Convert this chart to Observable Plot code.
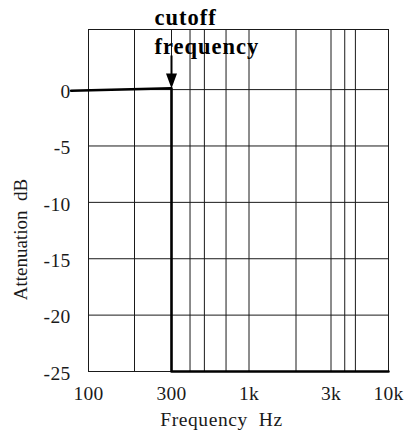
<!DOCTYPE html>
<html><head><meta charset="utf-8">
<script src="https://cdn.jsdelivr.net/npm/d3@7"></script>
<script src="https://cdn.jsdelivr.net/npm/@observablehq/plot@0.6"></script>
<style>
body{margin:0;background:#fff}
#chart svg{display:block}
.ticklab text{letter-spacing:0.3px}
.xlab text{letter-spacing:0.6px}
.note text{letter-spacing:1px}
</style>
</head><body><div id="chart"></div>
<script>
// ---- data ----
const freqTicks = [100, 300, 1000, 3000, 10000];
const freqTickLabels = ["100", "300", "1k", "3k", "10k"];
const freqGrid = [100, 200, 300, 400, 500, 700, 1000, 2000, 3000, 4000, 5000, 10000];
const dbTicks = [0, -5, -10, -15, -20, -25];
const dbTickLabels = ["0", "-5", "-10", "-15", "-20", "-25"];
const responseFreq = [77, 300, 300, 10000];
const responseDb = [-0.1, 0.12, -25, -25];
const cutoffFreq = [300];
const annotationText = "cutoff\nfrequency";
const xLabel = "Frequency\u00a0 Hz";
const yLabel = "Attenuation\u00a0 dB";

const response = responseFreq.map((f, i) => ({f, db: responseDb[i]}));
const ink = "#1a1a1a";
const serif = "'Liberation Serif', 'Times New Roman', serif";

const arrowShape = {
  draw(context, l) {
    const h = 15, w = 5.5, s = 1;
    context.moveTo(-s, 0);
    context.lineTo(-s, -(l - h));
    context.lineTo(-w, -(l - h));
    context.lineTo(0, -l);
    context.lineTo(w, -(l - h));
    context.lineTo(s, -(l - h));
    context.lineTo(s, 0);
    context.closePath();
  }
};

const chart = Plot.plot({
  width: 407,
  height: 430,
  marginLeft: 88,
  marginRight: 19,
  marginTop: 29,
  marginBottom: 59,
  style: {fontFamily: serif, color: ink, background: "#fff"},
  x: {type: "log", domain: [100, 200, 300, 1000, 2000, 3000, 10000],
      range: [88, 134, 171, 248.5, 295.5, 330.5, 388]},
  y: {domain: [-25, 5.33]},
  marks: [
    Plot.ruleX(freqGrid, {stroke: ink, strokeWidth: 1}),
    Plot.ruleY(dbTicks, {stroke: ink, strokeWidth: 1}),
    Plot.frame({stroke: ink, strokeWidth: 1}),
    Plot.axisX({ticks: freqTicks, tickFormat: d => freqTickLabels[freqTicks.indexOf(d)],
      tickSize: 0, tickPadding: 15, fontSize: 19.5, label: null, className: "ticklab"}),
    Plot.axisY({ticks: dbTicks, tickFormat: d => dbTickLabels[dbTicks.indexOf(d)],
      tickSize: 0, tickPadding: 18, fontSize: 19.5, label: null, dy: 2, className: "ticklab"}),
    Plot.line(response, {x: "f", y: "db", stroke: "#000", strokeWidth: 2.6}),
    Plot.vector(cutoffFreq, {x: d => d, y: 0, length: 33, rotate: 180, anchor: "end",
      shape: arrowShape, fill: "#000", stroke: "none", dy: -1}),
    Plot.text([annotationText], {x: cutoffFreq[0], frameAnchor: "top", dx: -17, dy: 24,
      textAnchor: "start", lineAnchor: "bottom", lineHeight: 1.27,
      fontSize: 22.5, fontWeight: "bold", fill: "#000", className: "note"}),
    Plot.text([xLabel], {frameAnchor: "bottom", dx: -17, dy: 54, lineAnchor: "bottom",
      textAnchor: "middle", fontSize: 19.5, fill: ink, className: "xlab"}),
    Plot.text([yLabel], {frameAnchor: "left", dx: -68, dy: 39, rotate: -90,
      textAnchor: "middle", lineAnchor: "middle", fontSize: 19, fill: ink})
  ]
});
document.getElementById("chart").append(chart);
</script>
</body></html>
